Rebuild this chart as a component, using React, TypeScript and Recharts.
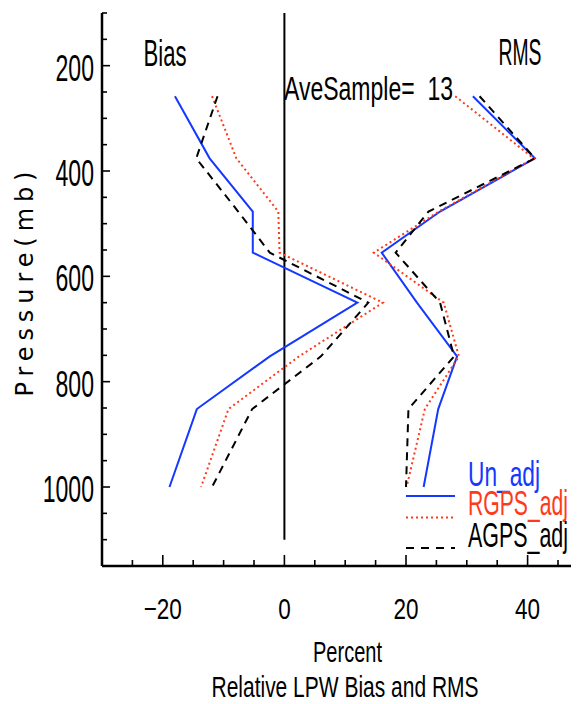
import { LineChart, Line, XAxis, YAxis, ReferenceLine, Customized } from 'recharts';

// pressure levels (mb) and relative LPW bias / rms (percent)
const pressure = [258, 376, 477, 555, 650, 752, 852, 1000];
const unBias = [-18.0, -12.3, -5.2, -5.2, 12.0, -2.4, -14.4, -18.9];
const rgpsBias = [-11.9, -7.9, -1.0, -0.8, 16.2, 2.4, -9.2, -13.7];
const agpsBias = [-11.0, -14.5, -7.6, -2.4, 13.8, 6.0, -5.3, -11.9];
const unRms = [31.0, 41.2, 25.6, 16.0, 21.8, 28.4, 25.3, 22.9];
const rgpsRms = [28.1, 41.0, 25.4, 14.7, 26.2, 28.7, 23.1, 20.1];
const agpsRms = [32.1, 41.2, 23.7, 18.3, 25.6, 27.9, 20.4, 20.0];

const xTicks = [-30, -25, -20, -15, -10, -5, 0, 5, 10, 15, 20, 25, 30, 35, 40, 45, 50];
const xLabels = [-20, 0, 20, 40];
const yTicks = [100, 150, 200, 250, 300, 350, 400, 450, 500, 550, 600, 650, 700, 750, 800, 850, 900, 950, 1000, 1050, 1100, 1150];
const yLabels = [200, 400, 600, 800, 1000];

const data = pressure.map((p, i) => ({
  p,
  unBias: unBias[i],
  rgpsBias: rgpsBias[i],
  agpsBias: agpsBias[i],
  unRms: unRms[i],
  rgpsRms: rgpsRms[i],
  agpsRms: agpsRms[i],
}));

const FONT = "'Liberation Sans', Arial, sans-serif";
const BLUE = '#1438ff';
const RED = '#ff3a1a';

const fmt = (v: number) => (v < 0 ? `\u2212${Math.abs(v)}` : `${v}`);

const BottomTick = ({ x, y, payload }: any) => {
  const major = xLabels.includes(payload.value);
  return (
    <g>
      <line x1={x} x2={x} y1={y} y2={y - (major ? 11 : 6)} stroke="#000" strokeWidth={1.6} />
      {major && (
        <text transform={`translate(${x},${y + 53}) scale(0.75,1)`} textAnchor="middle" fontSize={30} fontFamily={FONT}>
          {fmt(payload.value)}
        </text>
      )}
    </g>
  );
};

const TopTick = ({ x, y, payload }: any) => {
  const major = xLabels.includes(payload.value);
  return <line x1={x} x2={x} y1={y} y2={y + (major ? 11 : 6)} stroke="#000" strokeWidth={1.6} />;
};

const LeftTick = ({ x, y, payload }: any) => {
  const major = yLabels.includes(payload.value);
  return (
    <g>
      <line x1={x} x2={x + (major ? 8 : 5)} y1={y} y2={y} stroke="#000" strokeWidth={1.6} />
      {major && (
        <text transform={`translate(${x - 8},${y + 15}) scale(0.64,1)`} textAnchor="end" fontSize={36} fontFamily={FONT}>
          {payload.value}
        </text>
      )}
    </g>
  );
};

const RightTick = ({ x, y, payload }: any) => {
  const major = yLabels.includes(payload.value);
  return <line x1={x} x2={x - (major ? 8 : 5)} y1={y} y2={y} stroke="#000" strokeWidth={1.6} />;
};

const Annotations = () => (
  <g fontFamily={FONT} fill="#000">
    <text x={157} y={57.5} fontSize={36} textAnchor="middle" textLength={43} lengthAdjust="spacingAndGlyphs">Bias</text>
    <text x={512} y={57} fontSize={36} textAnchor="middle" textLength={43} lengthAdjust="spacingAndGlyphs">RMS</text>
    <text x={276} y={92} fontSize={33} textLength={169} lengthAdjust="spacingAndGlyphs">
      {'AveSample=\u00a0\u00a013'}
    </text>
    <text
      transform="translate(25,276) rotate(-90)"
      fontSize={24}
      textAnchor="middle"
      fontFamily="'DejaVu Sans', sans-serif"
      textLength={225}
      lengthAdjust="spacing"
    >
      Pressure(mb)
    </text>
    <text x={339.5} y={653.5} fontSize={30} textAnchor="middle" textLength={69} lengthAdjust="spacingAndGlyphs">Percent</text>
    <text x={337} y={688.5} fontSize={30} textAnchor="middle" textLength={267} lengthAdjust="spacingAndGlyphs">
      Relative LPW Bias and RMS
    </text>
    {/* legend */}
    <line x1={398} x2={447} y1={488} y2={488} stroke={BLUE} strokeWidth={2} />
    <line x1={398} x2={447} y1={509.5} y2={509.5} stroke={RED} strokeWidth={2} strokeDasharray="2 3" />
    <line x1={398} x2={447} y1={540} y2={540} stroke="#000" strokeWidth={2} strokeDasharray="8 7" />
    <text x={460} y={477.5} fontSize={35} fill={BLUE} textLength={72} lengthAdjust="spacingAndGlyphs">Un_adj</text>
    <text x={460} y={507} fontSize={35} fill={RED} textLength={100} lengthAdjust="spacingAndGlyphs">RGPS_adj</text>
    <text x={460} y={538.5} fontSize={35} fill="#000" textLength={100} lengthAdjust="spacingAndGlyphs">AGPS_adj</text>
  </g>
);

const App = () => {
  return (
    <div style={{ width: 571, height: 696, overflow: 'hidden' }}>
      <LineChart
        width={592}
        height={696}
        data={data}
        layout="vertical"
        margin={{ top: 5, right: 11.6, bottom: 78, left: 0 }}
      >
        <XAxis
          type="number"
          domain={[-30, 50]}
          ticks={xTicks}
          interval={0}
          allowDataOverflow
          height={60}
          tickSize={0}
          tickMargin={0}
          tickLine={false}
          tick={<BottomTick />}
          axisLine={{ stroke: '#000', strokeWidth: 2.5 }}
        />
        <XAxis
          xAxisId="top"
          orientation="top"
          type="number"
          domain={[-30, 50]}
          ticks={xTicks}
          interval={0}
          allowDataOverflow
          height={0}
          tickSize={0}
          tickMargin={0}
          tickLine={false}
          tick={<TopTick />}
          axisLine={{ stroke: '#000', strokeWidth: 2.5 }}
        />
        <YAxis
          type="number"
          dataKey="p"
          domain={[100, 1150]}
          ticks={yTicks}
          interval={0}
          allowDataOverflow
          width={94}
          tickSize={0}
          tickMargin={0}
          tickLine={false}
          tick={<LeftTick />}
          axisLine={{ stroke: '#000', strokeWidth: 2.5 }}
        />
        <YAxis
          yAxisId="right"
          orientation="right"
          type="number"
          dataKey="p"
          domain={[100, 1150]}
          ticks={yTicks}
          interval={0}
          allowDataOverflow
          width={0}
          tickSize={0}
          tickMargin={0}
          tickLine={false}
          tick={<RightTick />}
          axisLine={{ stroke: '#000', strokeWidth: 2.5 }}
        />
        <ReferenceLine
          segment={[
            { x: 0, y: 100 },
            { x: 0, y: 1100 },
          ]}
          stroke="#000"
          strokeWidth={2}
        />
        <Line dataKey="unBias" stroke={BLUE} strokeWidth={2} dot={false} isAnimationActive={false} />
        <Line dataKey="rgpsBias" stroke={RED} strokeWidth={2} strokeDasharray="2 3" dot={false} isAnimationActive={false} />
        <Line dataKey="agpsBias" stroke="#000" strokeWidth={2} strokeDasharray="8 6" dot={false} isAnimationActive={false} />
        <Line dataKey="unRms" stroke={BLUE} strokeWidth={2} dot={false} isAnimationActive={false} />
        <Line dataKey="rgpsRms" stroke={RED} strokeWidth={2} strokeDasharray="2 3" dot={false} isAnimationActive={false} />
        <Line dataKey="agpsRms" stroke="#000" strokeWidth={2} strokeDasharray="8 6" dot={false} isAnimationActive={false} />
        <Customized component={Annotations} />
      </LineChart>
    </div>
  );
};

export default App;
